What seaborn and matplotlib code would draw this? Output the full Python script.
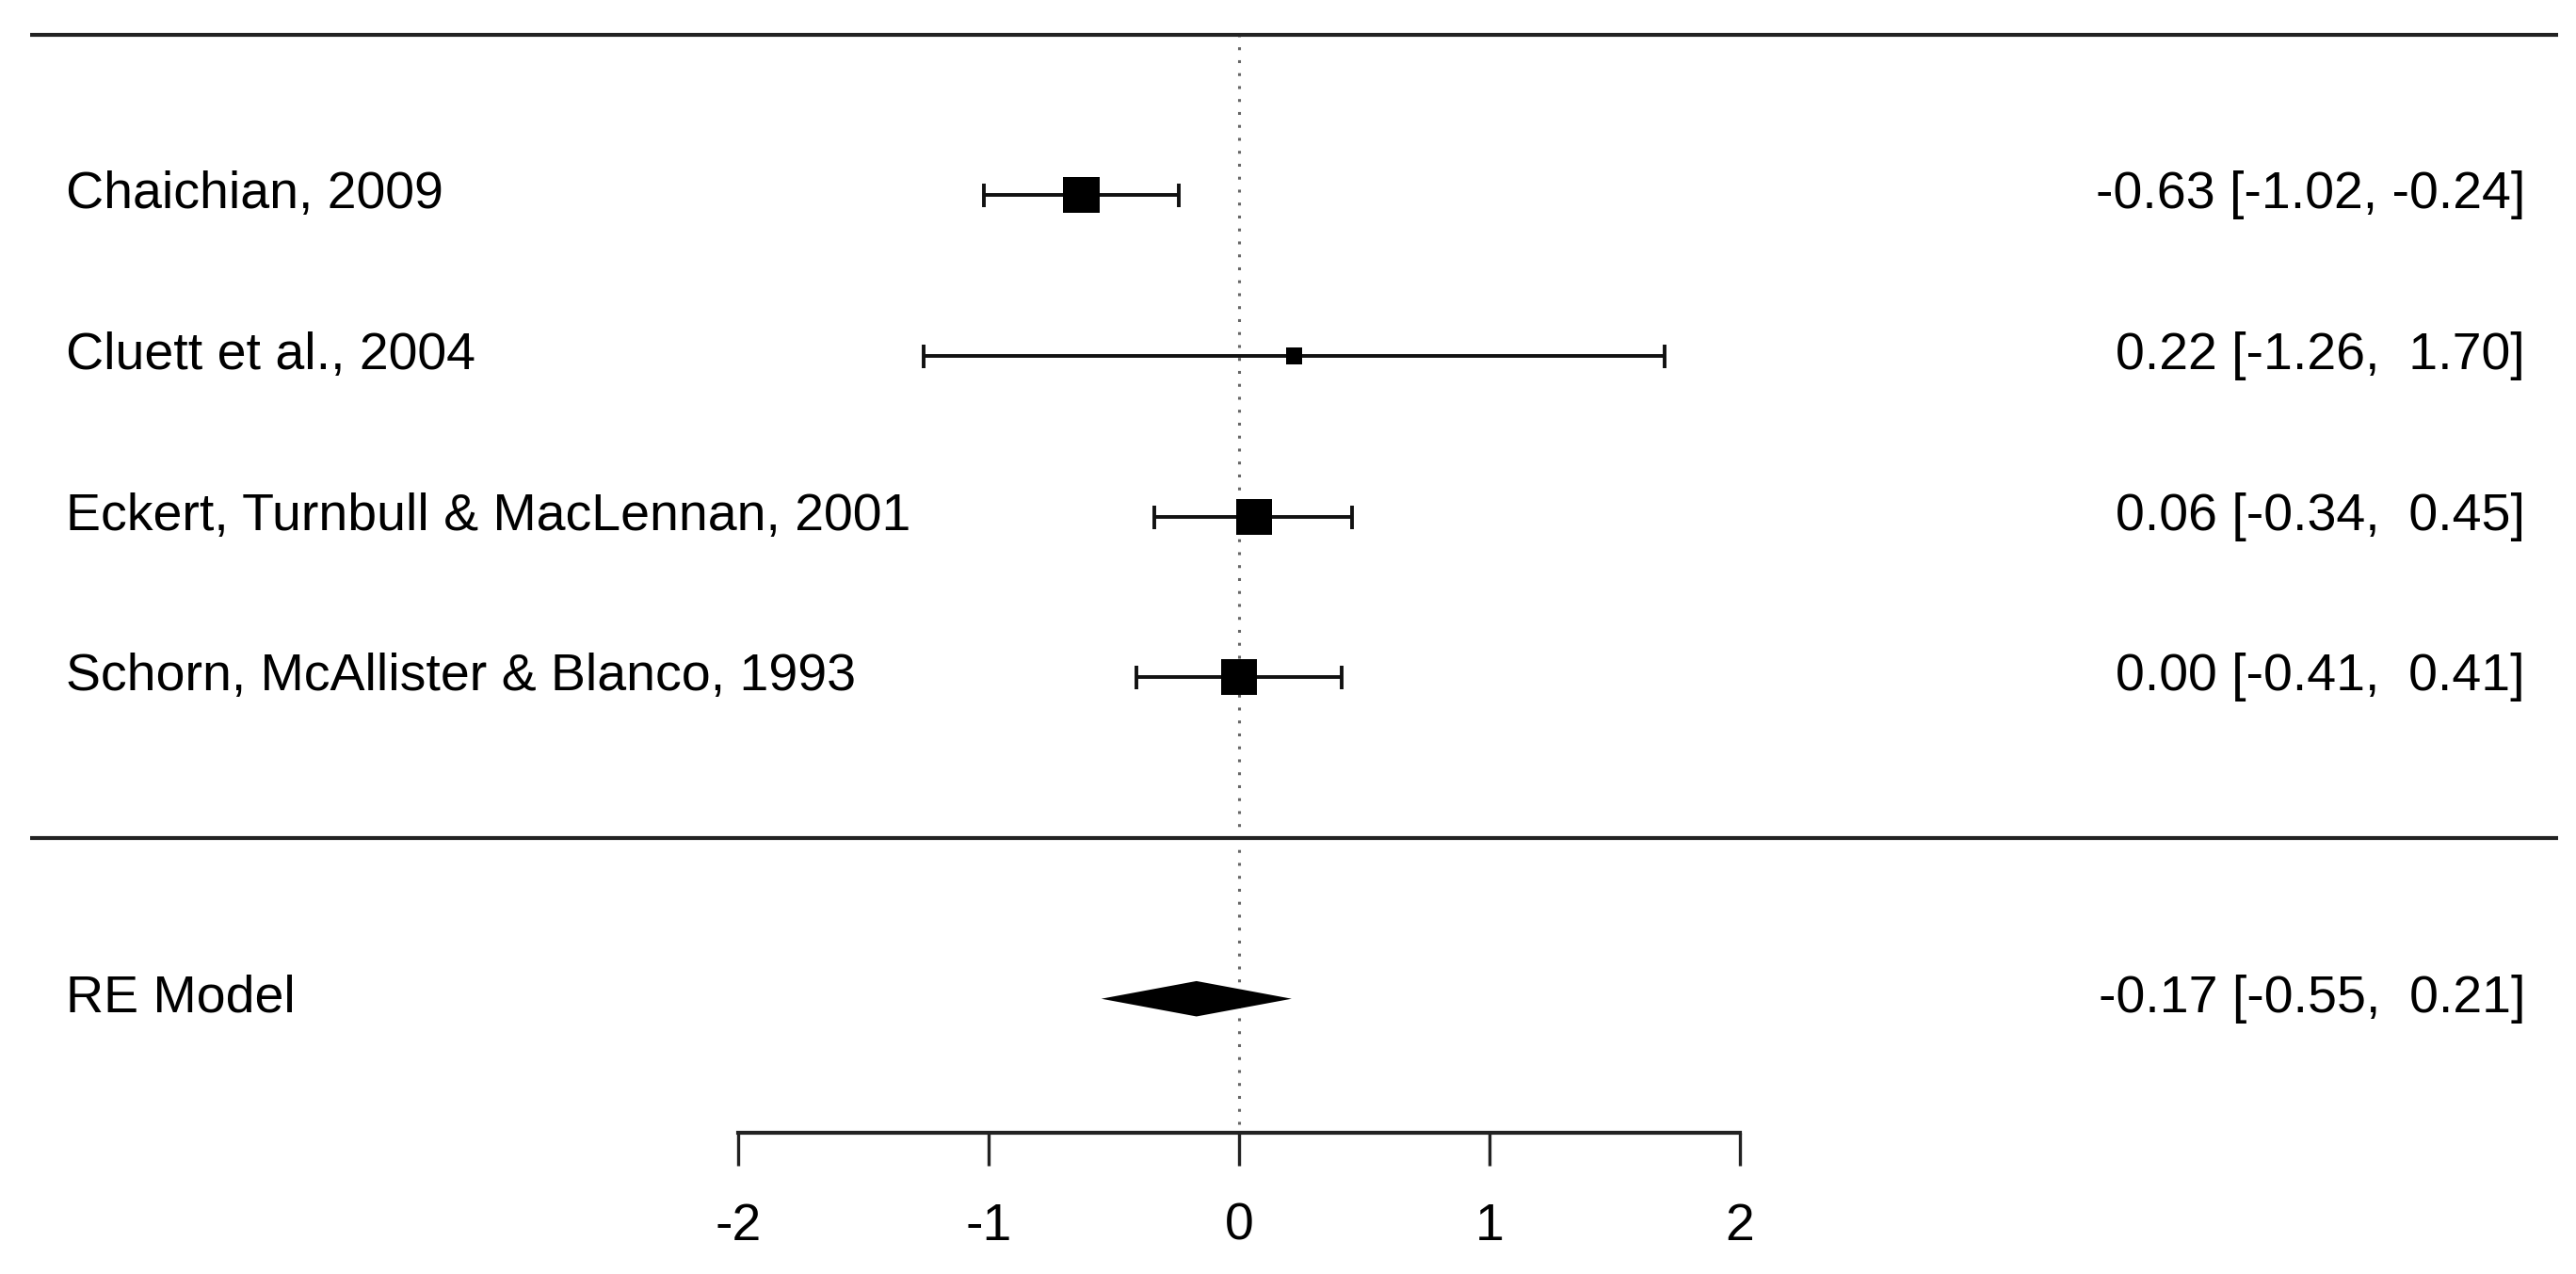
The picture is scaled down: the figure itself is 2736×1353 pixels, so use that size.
import numpy as np
import pandas as pd
import matplotlib
matplotlib.use("Agg")
import matplotlib.pyplot as plt
import seaborn as sns

# Study-level estimates (standardised mean differences)
studies = ["Chaichian, 2009", "Cluett et al., 2004",
           "Eckert, Turnbull & MacLennan, 2001", "Schorn, McAllister & Blanco, 1993"]
estimates = [-0.63, 0.22, 0.06, 0.00]
ci_lower = [-1.02, -1.26, -0.34, -0.41]
ci_upper = [-0.24, 1.70, 0.45, 0.41]
weights = [31.6, 5.8, 31.4, 31.2]  # approx. % weight, drives square size
ci_text = ["-0.63 [-1.02, -0.24]", "0.22 [-1.26,  1.70]",
           "0.06 [-0.34,  0.45]", "0.00 [-0.41,  0.41]"]

# Random-effects summary
re_label = "RE Model"
re_est = -0.17
re_lower = -0.55
re_upper = 0.21
re_text = "-0.17 [-0.55,  0.21]"

x_ticks = [-2, -1, 0, 1, 2]

k = len(studies)
df = pd.DataFrame({"study": studies, "est": estimates, "lo": ci_lower,
                   "hi": ci_upper, "w": weights, "txt": ci_text})
df["row"] = np.arange(k, 0, -1)

sns.set_style("white")
plt.rcParams["font.family"] = ["Liberation Sans", "DejaVu Sans"]
plt.rcParams["axes.unicode_minus"] = False
plt.rcParams["text.color"] = "black"
plt.rcParams["xtick.color"] = "black"

fig = plt.figure(figsize=(27.36, 13.53), dpi=100)
ax = fig.add_axes([0, 150 / 1353, 1, 1203 / 1353])
ax.set_xlim(-1316 / 266, (2736 - 1316) / 266)
ax.set_ylim(-313 / 170.7, 890 / 170.7)

# CI lines with end caps
ax.errorbar(df["est"], df["row"], xerr=[df["est"] - df["lo"], df["hi"] - df["est"]],
            fmt="none", ecolor="#111111", elinewidth=2.8, capsize=9, capthick=2.8, zorder=3)

# squares sized by weight
sns.scatterplot(data=df, x="est", y="row", size="w", sizes=(160, 760),
                size_norm=(min(weights), max(weights)), marker="s",
                color="black", linewidth=0, legend=False, ax=ax, zorder=4)

# summary diamond
h = 0.11
ax.fill([re_lower, re_est, re_upper, re_est], [-1, -1 + h, -1, -1 - h],
        color="black", lw=0, zorder=4)

# separator lines and reference line
x_left, x_right = (32 - 1316) / 266, (2717 - 1316) / 266
ax.hlines([k + 1, 0], x_left, x_right, color="#222222", lw=3)
ax.vlines(0, -1.78, k + 1, color="#666666", lw=2.2, linestyles=(0, (1, 3.5)), zorder=1)

# labels
x_lab = (70 - 1316) / 266
x_txt = (2682 - 1316) / 266
for _, r in df.iterrows():
    ax.text(x_lab, r["row"], r["study"], ha="left", va="center", fontsize=40)
    ax.text(x_txt, r["row"], r["txt"], ha="right", va="center", fontsize=40)
ax.text(x_lab, -1, re_label, ha="left", va="center", fontsize=40)
ax.text(x_txt, -1, re_text, ha="right", va="center", fontsize=40)

# x axis like base R
for s in ["top", "right", "left"]:
    ax.spines[s].set_visible(False)
ax.spines["bottom"].set_bounds(-2, 2)
ax.spines["bottom"].set_linewidth(3)
ax.spines["bottom"].set_color("#222222")
ax.set_xticks(x_ticks)
ax.set_xticklabels([str(t) for t in x_ticks])
ax.tick_params(axis="x", direction="out", length=25, width=2.4, pad=28,
               labelsize=40, color="#222222", bottom=True)
ax.set_yticks([])
ax.set_xlabel("")
ax.set_ylabel("")

fig.savefig("out.png", dpi=100)
